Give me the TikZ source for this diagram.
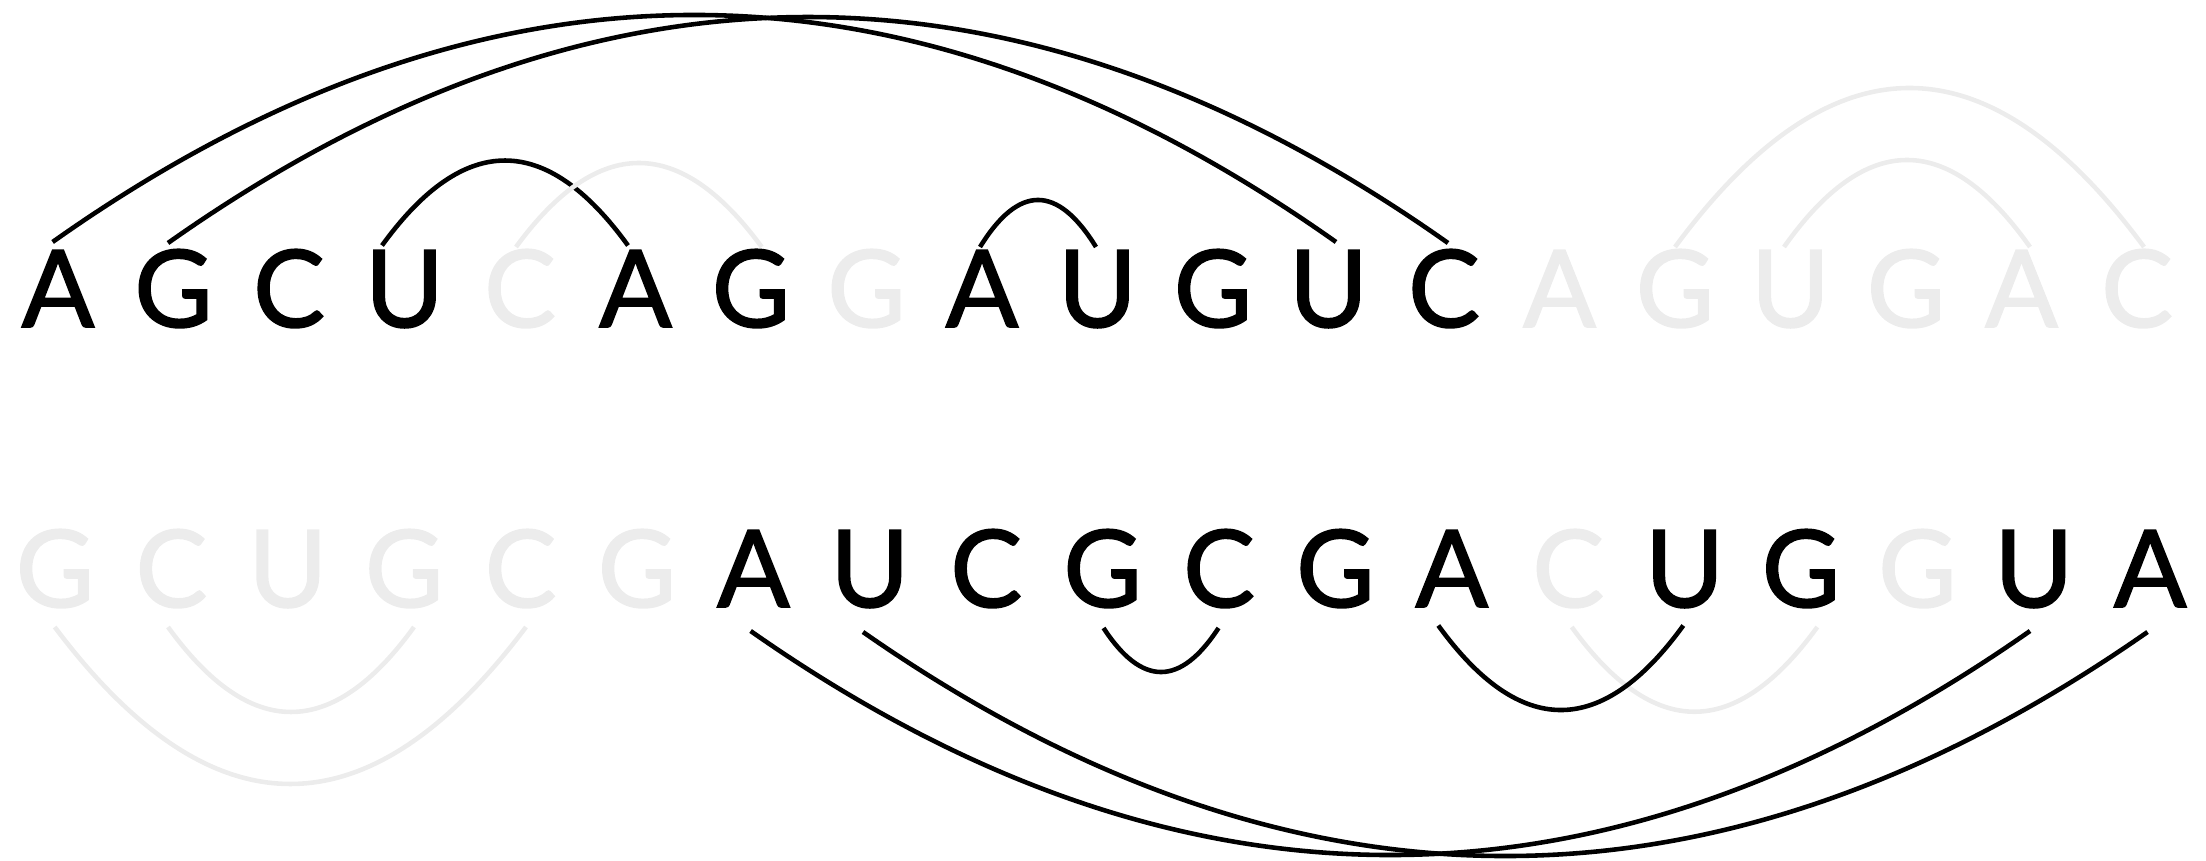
\documentclass[tikz,border=0pt]{standalone}
\usepackage{fontspec}
\setmainfont{Lato}
\newfontfamily\letterfont{Lato}[FakeBold=1.6]
\usetikzlibrary{calc}
\definecolor{faint}{RGB}{236,236,236}
\tikzset{
  base/.style={anchor=base,inner sep=0pt,outer sep=0pt,font=\letterfont\fontsize{30.5}{30}\selectfont},
  dark/.style={base,text=black},
  pale/.style={base,text=faint},
  arcdark/.style={draw=black,line width=1.3pt},
  arcpale/.style={draw=faint,line width=1.3pt}
}
% #1 style, #2 from node, #3 to node, #4 dx at start, #5 dx at end, #6 dy of ends, #7 control offset
\newcommand{\pairarc}[7]{%
  \draw[#1] let \p1=($(#2.base)+(#4,#6)$), \p2=($(#3.base)+(#5,#6)$) in
    (\p1) .. controls ($(\p1)!1/3!(\p2)+(0,#7)$) and ($(\p1)!2/3!(\p2)+(0,#7)$) .. (\p2);}
\begin{document}
\begin{tikzpicture}[x=0.01cm,y=-0.01cm]
\useasboundingbox (0,0) rectangle (2206,861);
% top row
\foreach \ch/\st [count=\i from 0] in {A/dark,G/dark,C/dark,U/dark,C/pale,A/dark,G/dark,G/pale,A/dark,U/dark,G/dark,U/dark,C/dark,A/pale,G/pale,U/pale,G/pale,A/pale,C/pale}
  \node[\st] (t\i) at ({58+115.5*\i},327) {\ch};
% bottom row
\foreach \ch/\st [count=\i from 0] in {G/pale,C/pale,U/pale,G/pale,C/pale,G/pale,A/dark,U/dark,C/dark,G/dark,C/dark,G/dark,A/dark,C/pale,U/dark,G/dark,G/pale,U/dark,A/dark}
  \node[\st] (b\i) at ({55+116.4*\i},607) {\ch};
% top arcs
\pairarc{arcdark}{t0}{t11}{-5.4}{7.5}{-85}{-302.7}
\pairarc{arcdark}{t1}{t12}{-5.5}{4}{-84}{-301.3}
\pairarc{arcdark}{t3}{t5}{-22.5}{-7.5}{-81.5}{-113.3}
\pairarc{arcpale}{t4}{t6}{-4}{10.7}{-80}{-112}
\pairarc{arcdark}{t8}{t9}{-2}{-1.5}{-80}{-62.7}
\pairarc{arcpale}{t14}{t18}{0}{7}{-80}{-212}
\pairarc{arcpale}{t15}{t17}{-6.5}{8.5}{-80}{-116}
% bottom arcs
\pairarc{arcpale}{b0}{b4}{-0.3}{5.4}{20}{209.3}
\pairarc{arcpale}{b1}{b3}{-3.4}{9.8}{20}{113.3}
\pairarc{arcpale}{b13}{b15}{3.5}{16.3}{20}{113}
\pairarc{arcdark}{b6}{b17}{-2.8}{-3.8}{24}{298.7}
\pairarc{arcdark}{b7}{b18}{-6.8}{-2.7}{25}{298.7}
\pairarc{arcdark}{b9}{b10}{0.9}{-0.5}{21}{58.7}
\pairarc{arcdark}{b12}{b14}{-13.5}{-1.3}{18.5}{112.7}
\end{tikzpicture}
\end{document}
